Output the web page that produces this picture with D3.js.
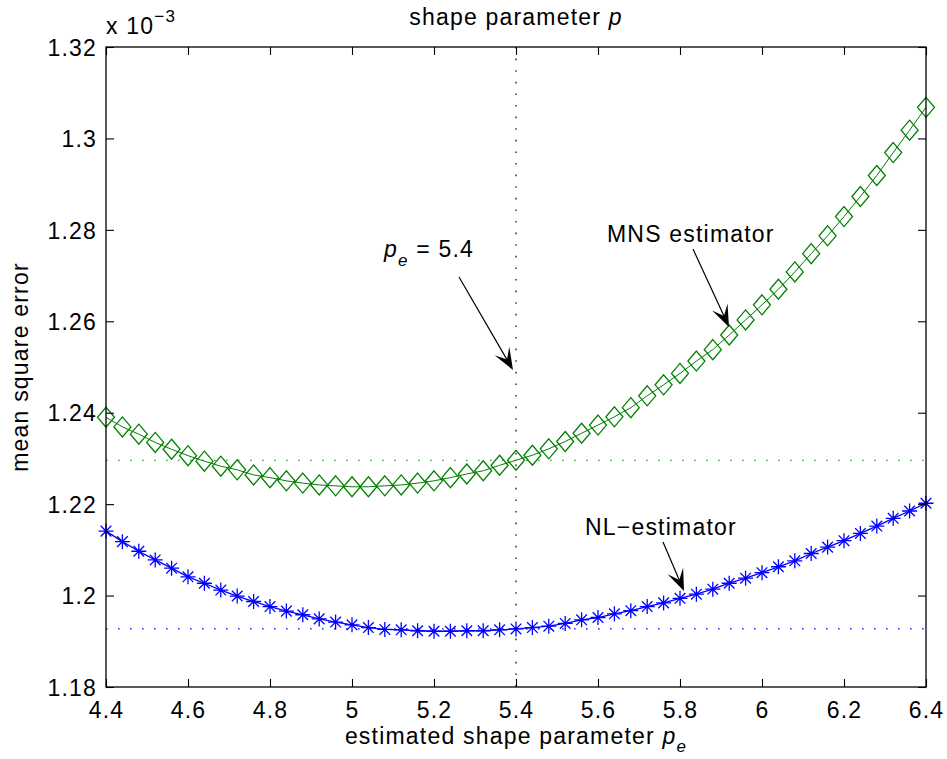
<!DOCTYPE html>
<html>
<head>
<meta charset="utf-8">
<script src="https://cdn.jsdelivr.net/npm/d3@7"></script>
<style>
  html, body { margin: 0; padding: 0; background: #fff; }
  svg { display: block; }
  text { font-family: "Liberation Sans", Arial, Helvetica, sans-serif; fill: #000; }
</style>
</head>
<body>
<svg id="chart" width="947" height="759"></svg>
<script>
// Estimated shape parameter grid
const pe = [4.40, 4.44, 4.48, 4.52, 4.56, 4.60, 4.64, 4.68, 4.72, 4.76,
            4.80, 4.84, 4.88, 4.92, 4.96, 5.00, 5.04, 5.08, 5.12, 5.16,
            5.20, 5.24, 5.28, 5.32, 5.36, 5.40, 5.44, 5.48, 5.52, 5.56,
            5.60, 5.64, 5.68, 5.72, 5.76, 5.80, 5.84, 5.88, 5.92, 5.96,
            6.00, 6.04, 6.08, 6.12, 6.16, 6.20, 6.24, 6.28, 6.32, 6.36, 6.40];

// Mean square error (x 1e-3), MNS estimator
const mnsMse = [1.2390, 1.2369, 1.2353, 1.2335, 1.2320, 1.2306, 1.2294, 1.2283, 1.2275, 1.2264,
                1.2258, 1.2251, 1.2246, 1.2242, 1.2240, 1.2238, 1.2238, 1.2240, 1.2242, 1.2246,
                1.2251, 1.2258, 1.2266, 1.2273, 1.2285, 1.2296, 1.2307, 1.2321, 1.2337, 1.2355,
                1.2373, 1.2391, 1.2411, 1.2437, 1.2461, 1.2486, 1.2513, 1.2538, 1.2570, 1.2603,
                1.2636, 1.2670, 1.2708, 1.2748, 1.2787, 1.2829, 1.2873, 1.2919, 1.2969, 1.3018, 1.3068];

// Mean square error (x 1e-3), NL estimator
const nlMse = [1.2141, 1.2118, 1.2097, 1.2078, 1.2060, 1.2041, 1.2027, 1.2012, 1.1999, 1.1987,
               1.1976, 1.1966, 1.1958, 1.1949, 1.1942, 1.1936, 1.1930, 1.1926, 1.1925, 1.1923,
               1.1922, 1.1922, 1.1923, 1.1923, 1.1925, 1.1927, 1.1930, 1.1933, 1.1939, 1.1947,
               1.1952, 1.1960, 1.1967, 1.1976, 1.1984, 1.1994, 1.2003, 1.2014, 1.2027, 1.2038,
               1.2050, 1.2063, 1.2076, 1.2092, 1.2106, 1.2120, 1.2136, 1.2152, 1.2169, 1.2185, 1.2202];

// True shape parameter (vertical reference) and axis ticks
const pTrue = 5.4;
const xTicks = [4.4, 4.6, 4.8, 5.0, 5.2, 5.4, 5.6, 5.8, 6.0, 6.2, 6.4];
const yTicks = [1.18, 1.20, 1.22, 1.24, 1.26, 1.28, 1.30, 1.32];

const svg = d3.select("#chart");
const margin = { top: 47, right: 21, bottom: 72, left: 106 };
const W = 947 - margin.left - margin.right;
const H = 759 - margin.top - margin.bottom;
const g = svg.append("g").attr("transform", `translate(${margin.left},${margin.top})`);

const x = d3.scaleLinear().domain([4.4, 6.4]).range([0, W]);
const y = d3.scaleLinear().domain([1.18, 1.32]).range([H, 0]);
const fmt = d3.format("~g");
const FS = "23px";
const LS = "1.2px";

// Reference levels at the true parameter
const iTrue = pe.findIndex(v => Math.abs(v - pTrue) < 1e-9);
const dotted = "1.6,10.4";
g.append("line").attr("x1", 0).attr("x2", W)
  .attr("y1", y(mnsMse[iTrue])).attr("y2", y(mnsMse[iTrue]))
  .attr("stroke", "#008000").attr("stroke-width", 1.2).attr("stroke-dasharray", dotted);
g.append("line").attr("x1", 0).attr("x2", W)
  .attr("y1", y(nlMse[iTrue])).attr("y2", y(nlMse[iTrue]))
  .attr("stroke", "#0000ff").attr("stroke-width", 1.2).attr("stroke-dasharray", dotted);
g.append("line").attr("x1", x(pTrue)).attr("x2", x(pTrue))
  .attr("y1", 0).attr("y2", H)
  .attr("stroke", "#000").attr("stroke-width", 1.2).attr("stroke-dasharray", "1.6,10");

// Curves
const line = d3.line().x(d => x(d[0])).y(d => y(d[1]));
const mnsPts = pe.map((p, i) => [p, mnsMse[i]]);
const nlPts = pe.map((p, i) => [p, nlMse[i]]);

g.append("path").datum(mnsPts).attr("d", line)
  .attr("fill", "none").attr("stroke", "#008000").attr("stroke-width", 1);
g.append("path").datum(nlPts).attr("d", line)
  .attr("fill", "none").attr("stroke", "#0000ff").attr("stroke-width", 1.3);

// Diamond markers
const dw = 8.5, dh = 10;
g.append("g").selectAll("path").data(mnsPts).join("path")
  .attr("transform", d => `translate(${x(d[0])},${y(d[1])})`)
  .attr("d", `M0,${-dh}L${dw},0L0,${dh}L${-dw},0Z`)
  .attr("fill", "none").attr("stroke", "#008000").attr("stroke-width", 1.3);

// Asterisk markers
const r = 7.5, a = r * 0.7071;
g.append("g").selectAll("path").data(nlPts).join("path")
  .attr("transform", d => `translate(${x(d[0])},${y(d[1])})`)
  .attr("d", `M${-r},0L${r},0M0,${-r}L0,${r}M${-a},${-a}L${a},${a}M${-a},${a}L${a},${-a}`)
  .attr("fill", "none").attr("stroke", "#0000ff").attr("stroke-width", 1.3);

// Axes with inward ticks on all four sides
const tk = 8;
const gx = g.append("g").attr("transform", `translate(0,${H})`)
  .call(d3.axisBottom(x).tickValues(xTicks).tickSize(-tk).tickFormat(fmt));
gx.selectAll("text").attr("y", 31).attr("dy", null);
const gxt = g.append("g")
  .call(d3.axisTop(x).tickValues(xTicks).tickSize(-tk).tickFormat(""));
const gy = g.append("g")
  .call(d3.axisLeft(y).tickValues(yTicks).tickSize(-tk).tickFormat(fmt));
gy.selectAll("text").attr("x", -9).attr("dy", "0.36em");
const gyr = g.append("g").attr("transform", `translate(${W},0)`)
  .call(d3.axisRight(y).tickValues(yTicks).tickSize(-tk).tickFormat(""));

[gx, gxt, gy, gyr].forEach(s => {
  s.select(".domain").remove();
  s.selectAll(".tick line").attr("stroke", "#000").attr("stroke-width", 1.1);
  s.selectAll("text").style("font-size", FS).style("letter-spacing", LS)
    .attr("font-family", null).attr("fill", "#000");
});

g.append("rect").attr("x", 0).attr("y", 0).attr("width", W).attr("height", H)
  .attr("fill", "none").attr("stroke", "#000").attr("stroke-width", 1.3);

// Axis titles
const xl = svg.append("text").attr("x", margin.left + W / 2).attr("y", 744)
  .attr("text-anchor", "middle").style("font-size", FS).style("letter-spacing", LS);
xl.append("tspan").text("estimated shape parameter ");
xl.append("tspan").style("font-style", "italic").text("p");
xl.append("tspan").style("font-style", "italic").style("font-size", "17px")
  .attr("dy", 8).text("e");

const tl = svg.append("text").attr("x", margin.left + W / 2).attr("y", 25)
  .attr("text-anchor", "middle").style("font-size", FS).style("letter-spacing", LS);
tl.append("tspan").text("shape parameter  ");
tl.append("tspan").style("font-style", "italic").text("p");

svg.append("text")
  .attr("transform", `translate(28,${margin.top + H / 2}) rotate(-90)`)
  .attr("text-anchor", "middle").style("font-size", FS).style("letter-spacing", LS)
  .text("mean square error");

// Exponent label
const ex = svg.append("text").attr("x", margin.left).attr("y", 34)
  .style("font-size", FS).style("letter-spacing", LS);
ex.append("tspan").text("x 10");
ex.append("tspan").style("font-size", "17px").attr("dy", -12).text("\u22123");

// Annotations with arrows
function arrow(x1, y1, x2, y2) {
  const ang = Math.atan2(y2 - y1, x2 - x1);
  const L = 22, w = 8.5, notch = 12;
  const ux = Math.cos(ang), uy = Math.sin(ang);
  const px = -uy, py = ux;
  const bx = x2 - ux * L, by = y2 - uy * L;
  const nx = x2 - ux * notch, ny = y2 - uy * notch;
  svg.append("line").attr("x1", x1).attr("y1", y1).attr("x2", nx).attr("y2", ny)
    .attr("stroke", "#000").attr("stroke-width", 1.2);
  svg.append("path")
    .attr("d", `M${x2},${y2}L${bx + px * w},${by + py * w}L${nx},${ny}L${bx - px * w},${by - py * w}Z`)
    .attr("fill", "#000");
}

const t1 = svg.append("text").attr("x", 384).attr("y", 257)
  .style("font-size", FS).style("letter-spacing", LS);
t1.append("tspan").style("font-style", "italic").text("p");
t1.append("tspan").style("font-style", "italic").style("font-size", "17px")
  .attr("dy", 9).text("e");
t1.append("tspan").attr("dy", -9).text(" = 5.4");
arrow(459, 277, x(pTrue) + margin.left - 3, 370);

svg.append("text").attr("x", 607).attr("y", 242)
  .style("font-size", FS).style("letter-spacing", LS).text("MNS estimator");
arrow(693, 249, 729, 327);

svg.append("text").attr("x", 585).attr("y", 535)
  .style("font-size", FS).style("letter-spacing", LS).text("NL\u2212estimator");
arrow(663, 542, 684, 591);
</script>
</body>
</html>
